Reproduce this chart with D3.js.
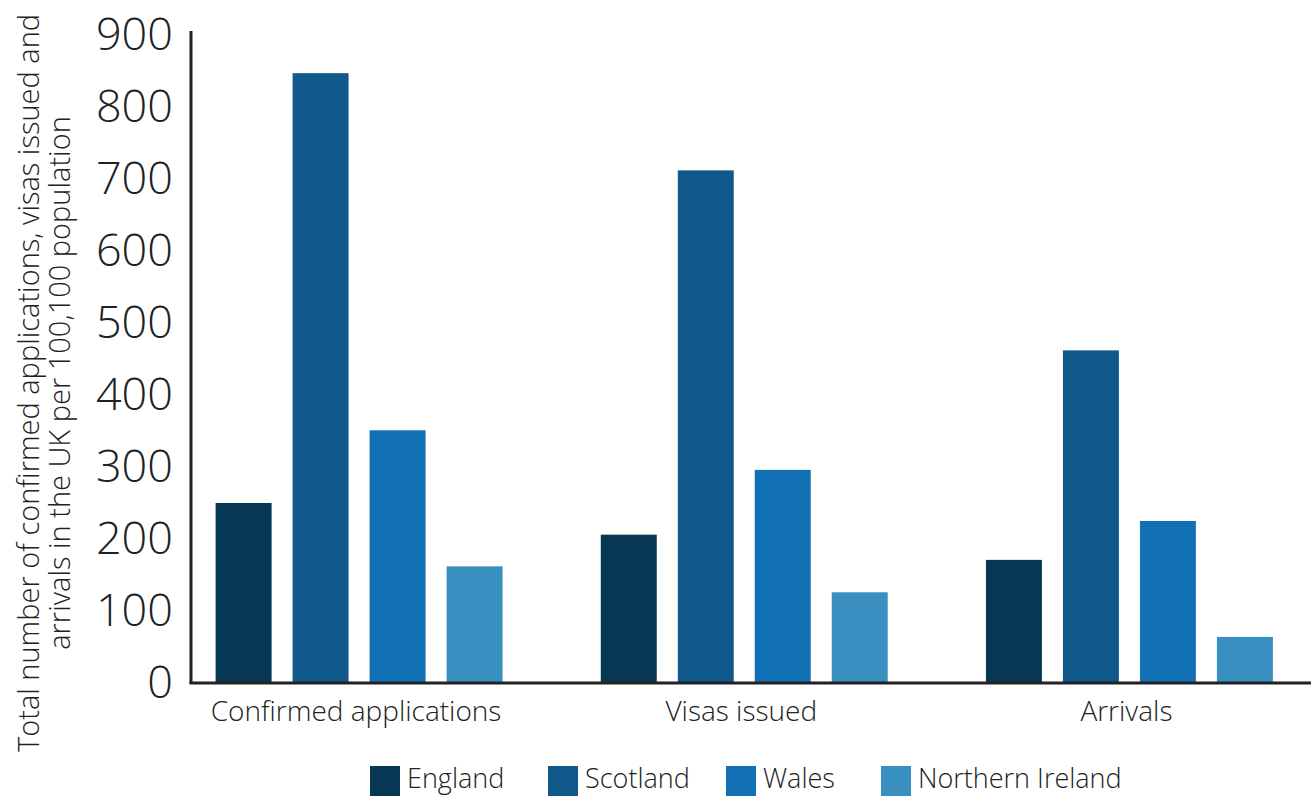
<!DOCTYPE html>
<html>
<head>
<meta charset="utf-8">
<script src="https://cdn.jsdelivr.net/npm/d3@7"></script>
<style>
  body { margin: 0; background: #fff; }
  svg text { font-family: "Open Sans", "DejaVu Sans", sans-serif; fill: #222; }
</style>
</head>
<body>
<div id="chart"></div>
<script>
// dữ liệu
const groups = ['Confirmed applications', 'Visas issued', 'Arrivals'];
const nations = ['England', 'Scotland', 'Wales', 'Northern Ireland'];
const england = [250, 206, 171];
const scotland = [847, 712, 462];
const wales = [351, 296, 225];
const nireland = [162, 126, 64];
const yTicks = [0, 100, 200, 300, 400, 500, 600, 700, 800, 900];
const colors = ['#063755', '#12598b', '#1271b4', '#388fc0'];

const series = [england, scotland, wales, nireland];
const data = groups.map((g, i) => ({
  group: g,
  values: nations.map((n, j) => ({ nation: n, value: series[j][i] }))
}));

const W = 1314, H = 796;
const svg = d3.select('#chart').append('svg')
  .attr('width', W).attr('height', H);

const axisX = 191, baseY = 683;
const y = d3.scaleLinear().domain([0, 900]).range([baseY, 35]);
const x0 = d3.scaleBand().domain(groups).range([166.5, 1322]).padding(0);
const x1 = d3.scaleBand().domain(nations).range([0, x0.bandwidth()])
  .paddingInner(0.273).paddingOuter(0.638);
const color = d3.scaleOrdinal().domain(nations).range(colors);

// Bars
const gg = svg.selectAll('.grp').data(data).join('g')
  .attr('transform', d => `translate(${x0(d.group)},0)`);
gg.selectAll('rect').data(d => d.values).join('rect')
  .attr('x', d => x1(d.nation)).attr('width', x1.bandwidth())
  .attr('y', d => y(d.value)).attr('height', d => baseY - y(d.value))
  .attr('fill', d => color(d.nation));

// Y axis
const yAxis = svg.append('g').attr('transform', `translate(${axisX},0)`)
  .call(d3.axisLeft(y).tickValues(yTicks).tickSize(0).tickPadding(18));
yAxis.select('.domain').remove();
yAxis.selectAll('text')
  .style('font-size', '45px').style('font-weight', 300)
  .style('font-family', '"Open Sans", sans-serif').attr('fill', '#222');
svg.append('line').attr('x1', axisX).attr('x2', axisX).attr('y1', 31).attr('y2', baseY + 1)
  .attr('stroke', '#222').attr('stroke-width', 3);

// X axis
svg.append('line').attr('x1', axisX - 1.5).attr('x2', 1311).attr('y1', baseY).attr('y2', baseY)
  .attr('stroke', '#222').attr('stroke-width', 3);
svg.selectAll('.xlbl').data(groups).join('text')
  .attr('x', d => x0(d) + x0.bandwidth() / 2 - 3)
  .attr('y', 721)
  .attr('text-anchor', 'middle')
  .style('font-size', '28px').style('font-weight', 300)
  .text(d => d);

// Y title
const yt = svg.append('text')
  .attr('transform', 'translate(44,383) rotate(-90)')
  .attr('text-anchor', 'middle')
  .style('font-size', '29px').style('font-weight', 300);
yt.append('tspan').attr('x', 0).attr('dy', -5)
  .text('Total number of confirmed applications, visas issued and');
yt.append('tspan').attr('x', 0).attr('dy', 31)
  .text('arrivals in the UK per 100,100 population');

// Legend
const legX = [370, 548, 726, 881];
const lg = svg.selectAll('.leg').data(nations).join('g')
  .attr('transform', (d, i) => `translate(${legX[i]},766)`);
lg.append('rect').attr('width', 30).attr('height', 30).attr('fill', d => color(d));
lg.append('text').attr('x', 37).attr('y', 22)
  .style('font-size', '27px').style('font-weight', 300)
  .text(d => d);
</script>
</body>
</html>
